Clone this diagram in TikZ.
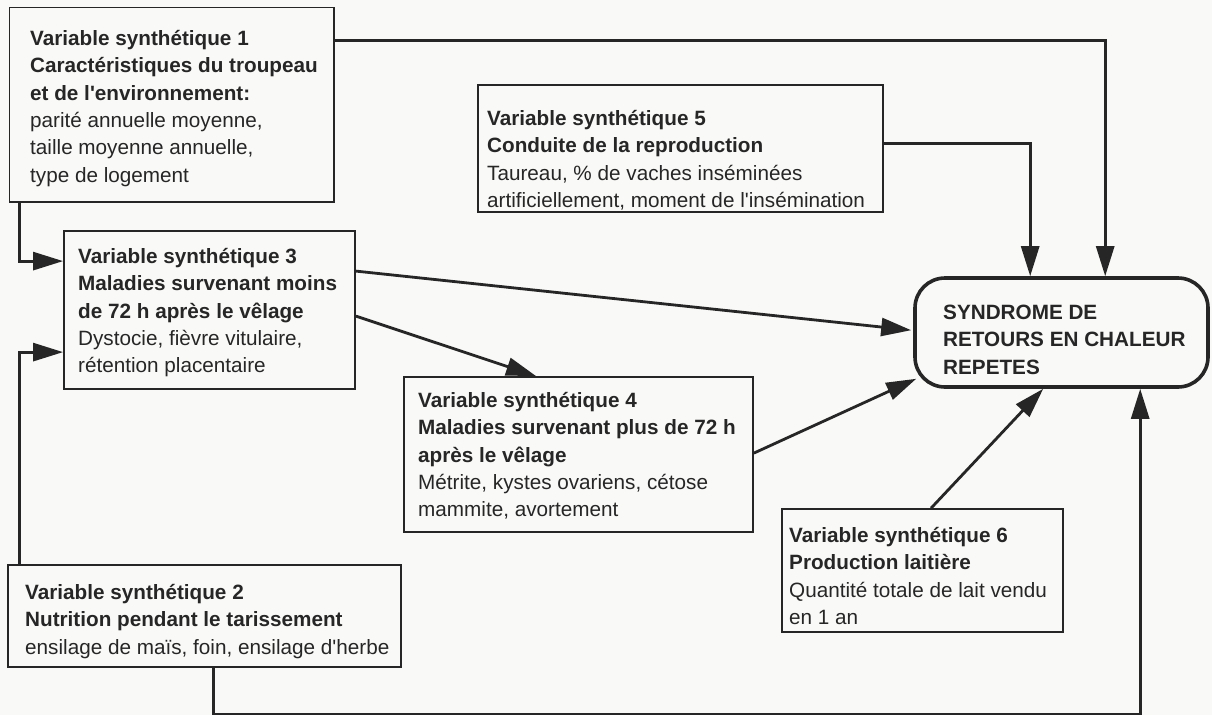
\documentclass[tikz,border=0pt]{standalone}
\usepackage{fontspec}
\newfontfamily\diagfont{Liberation Sans}
\usetikzlibrary{arrows.meta,calc,fit}
\definecolor{ink}{HTML}{262626}
\definecolor{paper}{HTML}{F9F9F7}
\begin{document}
\begin{tikzpicture}[x=1pt,y=-1pt,
  frame/.style={draw=ink, line width=1.8pt, inner sep=0pt},
  synframe/.style={draw=ink, line width=3.6pt, inner sep=0pt, rounded corners=30pt},
  label/.style={anchor=north west, inner sep=0pt, align=left, text=ink,
    font=\diagfont\fontsize{20.7}{27.3}\selectfont},
  link/.style={draw=ink, line width=2.8pt, -{Triangle[length=30pt,width=18pt]}},
  plain/.style={draw=ink, line width=2.8pt}]

\useasboundingbox (0,0) rectangle (1212,715);
\fill[paper] (0,0) rectangle (1212,715);

% boxes
\node[frame, fit={(9.5,7.5) (334,202)}] (b1) {};
\node[frame, fit={(478,85) (883,212)}] (b5) {};
\node[frame, fit={(64,231) (355,389)}] (b3) {};
\node[frame, fit={(404,377) (753,532)}] (b4) {};
\node[frame, fit={(782,509) (1063,632)}] (b6) {};
\node[frame, fit={(8,565) (401,667)}] (b2) {};
\node[synframe, fit={(915,278) (1208,387)}] (syn) {};

% texts
\node[label] (t1) at (30,26.3) {\strut\textbf{Variable synthétique 1}\\
  \textbf{Caractéristiques du troupeau}\\
  \textbf{et de l'environnement:}\\
  parité annuelle moyenne,\\
  taille moyenne annuelle,\\
  type de logement};
\node[label] (t5) at (487,106.3) {\strut\textbf{Variable synthétique 5}\\
  \textbf{Conduite de la reproduction}\\
  Taureau, \% de vaches inséminées\\
  artificiellement, moment de l'insémination};
\node[label] (t3) at (78,244.3) {\strut\textbf{Variable synthétique 3}\\
  \textbf{Maladies survenant moins}\\
  \textbf{de 72 h après le vêlage}\\
  Dystocie, fièvre vitulaire,\\
  rétention placentaire};
\node[label] (t4) at (418,388.3) {\strut\textbf{Variable synthétique 4}\\
  \textbf{Maladies survenant plus de 72 h}\\
  \textbf{après le vêlage}\\
  Métrite, kystes ovariens, cétose\\
  mammite, avortement};
\node[label] (t6) at (789,523.3) {\strut\textbf{Variable synthétique 6}\\
  \textbf{Production laitière}\\
  Quantité totale de lait vendu\\
  en 1 an};
\node[label] (t2) at (25,580.3) {\strut\textbf{Variable synthétique 2}\\
  \textbf{Nutrition pendant le tarissement}\\
  ensilage de maïs, foin, ensilage d'herbe};
\node[label] (tsyn) at (943,300.3) {\strut\textbf{SYNDROME DE}\\
  \textbf{RETOURS EN CHALEUR}\\
  \textbf{REPETES}};

% connectors
\draw[link] ($(b1.north east)+(0,33.5)$) -| ($(syn.north west)+(192,0)$);
\draw[link] ($(b5.north east)+(0,59)$) -| ($(syn.north west)+(117,0)$);
\draw[link] ($(b1.south west)+(11,0)$) |- ($(b3.north west)+(0,31)$);
\draw[link] ($(b2.north west)+(12,0)$) |- ($(b3.north west)+(0,122)$);
\draw[link] ($(b3.north east)+(0,41)$) -- ($(syn.north west)+(-2,54)$);
\draw[link] ($(b3.north east)+(0,86)$) -- ($(b4.north west)+(133,0)$);
\draw[link] ($(b4.north east)+(0,77)$) -- ($(syn.south west)+(3,-10)$);
\draw[link] ($(b6.north west)+(150,0)$) -- ($(syn.south west)+(130,0)$);
\draw[link] ($(b2.south west)+(206,0)$) -- ++(0,46) -| ($(syn.south west)+(227,0)$);

\end{tikzpicture}
\end{document}
